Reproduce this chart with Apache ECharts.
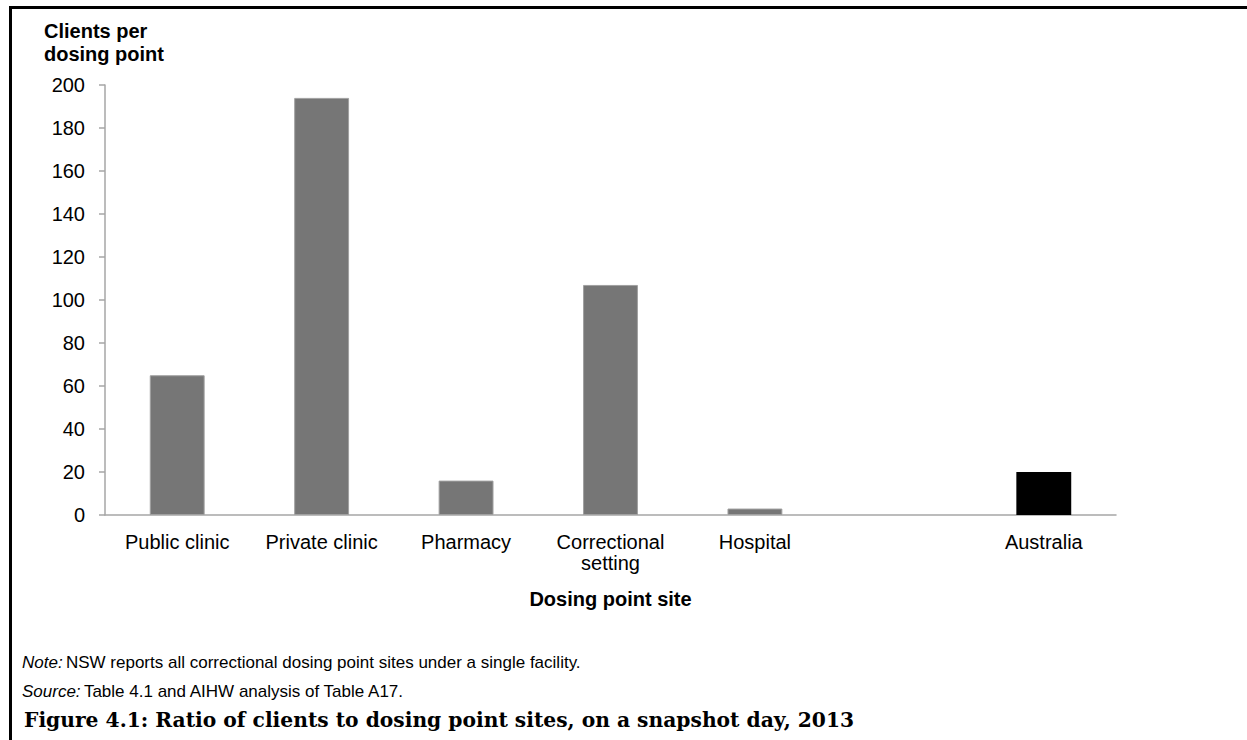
<!DOCTYPE html>
<html>
<head>
<meta charset="utf-8">
<title>Ratio of clients to dosing point sites, 2013</title>
<script src="https://cdn.jsdelivr.net/npm/echarts@6/dist/echarts.min.js"></script>
<style>
  html, body { margin: 0; padding: 0; background: #fff; }
  #chart { width: 1247px; height: 740px; }
</style>
</head>
<body>
<div id="chart"></div>
<script>
// Dosing point site categories (blank slot separates the national figure)
const categories = ['Public clinic', 'Private clinic', 'Pharmacy', 'Correctional\nsetting', 'Hospital', '', 'Australia'];
// Clients per dosing point, by site type
const clientsPerPoint = [65, 194, 16, 107, 3, null, 20];
// Value axis ticks
const yMin = 0, yMax = 200, yStep = 20;

const yAxisTitle = 'Clients per\ndosing point';
const xAxisTitle = 'Dosing point site';
const noteText = 'NSW reports all correctional dosing point sites under a single facility.';
const sourceText = 'Table 4.1 and AIHW analysis of Table A17.';
const figureTitle = 'Figure 4.1: Ratio of clients to dosing point sites, on a snapshot day, 2013';

const sans = 'Arial, "Liberation Sans", Helvetica, sans-serif';
const serif = '"Palatino Linotype", "Book Antiqua", "DejaVu Serif", serif';
const axisGrey = '#a6a6a6';

const barData = clientsPerPoint.map((v, i) => {
  const isTotal = categories[i] === 'Australia';
  return {
    value: v,
    itemStyle: isTotal
      ? { color: '#000000', borderColor: '#000000', borderWidth: 0 }
      : { color: '#767676', borderColor: '#a0a0a0', borderWidth: 1 }
  };
});

const chart = echarts.init(document.getElementById('chart'), null, { renderer: 'svg' });

chart.setOption({
  backgroundColor: '#ffffff',
  animation: false,
  grid: { left: 105, right: 131, top: 85, bottom: 225, containLabel: false },
  xAxis: {
    type: 'category',
    data: categories,
    axisLine: { show: true, lineStyle: { color: axisGrey, width: 1.5 } },
    axisTick: { show: false },
    axisLabel: {
      interval: 0,
      margin: 16,
      color: '#000',
      fontFamily: sans,
      fontSize: 20,
      lineHeight: 21
    },
    name: xAxisTitle,
    nameLocation: 'middle',
    nameGap: 74,
    nameTextStyle: { color: '#000', fontFamily: sans, fontSize: 20, fontWeight: 'bold' }
  },
  yAxis: {
    type: 'value',
    min: yMin,
    max: yMax,
    interval: yStep,
    axisLine: { show: true, lineStyle: { color: axisGrey, width: 1.5 } },
    axisTick: { show: true, inside: false, length: 6, lineStyle: { color: axisGrey, width: 1.5 } },
    splitLine: { show: false },
    axisLabel: { margin: 20, color: '#000', fontFamily: sans, fontSize: 20 }
  },
  series: [{
    type: 'bar',
    data: barData,
    barWidth: '38%'
  }],
  graphic: [
    // page frame: top and left rules
    { type: 'rect', shape: { x: 9, y: 6, width: 1238, height: 3 }, style: { fill: '#000' }, silent: true },
    { type: 'rect', shape: { x: 9, y: 6, width: 3, height: 734 }, style: { fill: '#000' }, silent: true },
    {
      type: 'text', left: 44, top: 19,
      style: { text: yAxisTitle, fill: '#000', font: 'bold 20px ' + sans, lineHeight: 23 }
    },
    {
      type: 'text', x: 22, y: 662,
      style: {
        text: '{i|Note:} {n|' + noteText + '}',
        verticalAlign: 'middle',
        rich: {
          i: { fontFamily: sans, fontSize: 17, fontStyle: 'italic', fill: '#000' },
          n: { fontFamily: sans, fontSize: 17, fill: '#000' }
        }
      }
    },
    {
      type: 'text', x: 22, y: 691,
      style: {
        text: '{i|Source:} {n|' + sourceText + '}',
        verticalAlign: 'middle',
        rich: {
          i: { fontFamily: sans, fontSize: 17, fontStyle: 'italic', fill: '#000' },
          n: { fontFamily: sans, fontSize: 17, fill: '#000' }
        }
      }
    },
    {
      type: 'text', x: 24, y: 720,
      style: { text: figureTitle, fill: '#000', font: 'bold 20.25px ' + serif, verticalAlign: 'middle' }
    }
  ]
});
</script>
</body>
</html>
